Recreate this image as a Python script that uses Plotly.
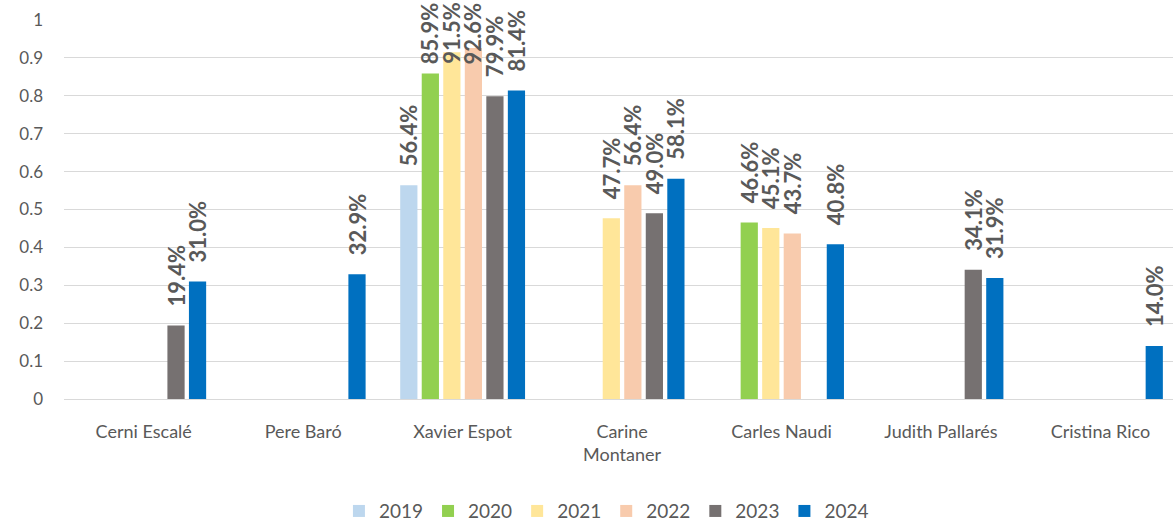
import plotly.graph_objects as go

categories = ["Cerni Escalé", "Pere Baró", "Xavier Espot", "Carine<br>Montaner",
              "Carles Naudi", "Judith Pallarés", "Cristina Rico"]
years = ["2019", "2020", "2021", "2022", "2023", "2024"]
v2019 = [None, None, 0.564, None, None, None, None]
v2020 = [None, None, 0.859, None, 0.466, None, None]
v2021 = [None, None, 0.915, 0.477, 0.451, None, None]
v2022 = [None, None, 0.926, 0.564, 0.437, None, None]
v2023 = [0.194, None, 0.799, 0.490, None, 0.341, None]
v2024 = [0.310, 0.329, 0.814, 0.581, 0.408, 0.319, 0.140]
colors = ["#BDD7EE", "#92D050", "#FFE699", "#F8CBAD", "#767171", "#0070C0"]
series = [v2019, v2020, v2021, v2022, v2023, v2024]

font = "Lato, 'Open Sans', sans-serif"
TXT = "#595959"
W, H = 1173, 521
ML, MR, MT, MB = 64, 0, 20, 122
XR = [-0.5, 6.455]
BARGAP = 0.19
plot_w = W - ML - MR
plot_h = H - MT - MB
pitch = plot_w / (XR[1] - XR[0])
slot = pitch * (1 - BARGAP) / len(series)
LABEL_LEN = 63      # approx. rotated label length in px
LABEL_GAP = 16      # gap between bar end and label

fig = go.Figure()
annotations = []
for i, (name, vals, col) in enumerate(zip(years, series, colors)):
    positions = []
    for j, v in enumerate(vals):
        if v is None:
            positions.append("none")
            continue
        bar_top_px = MT + (1 - v) * plot_h
        if bar_top_px - LABEL_GAP - LABEL_LEN < 1:
            # label would leave the chart: pin it to the top edge (as Excel does)
            positions.append("none")
            annotations.append(dict(
                x=j, xref="x", xshift=(i - (len(series) - 1) / 2) * slot,
                y=1 + MT / plot_h, yref="paper", yanchor="top", xanchor="center",
                text=f"{v:.1%}", textangle=-90, showarrow=False,
                font=dict(family=font, size=22, color=TXT, weight="bold"),
            ))
        else:
            positions.append("outside")
    fig.add_trace(go.Bar(
        x=categories, y=vals, name=name,
        marker=dict(color=col, line=dict(width=0)),
        texttemplate="\u00a0\u00a0\u00a0%{y:.1%}", textposition=positions, textangle=-90,
        textfont=dict(family=font, size=22, color=TXT, weight="bold"),
        cliponaxis=False, constraintext="none", hoverinfo="skip",
    ))

fig.update_layout(
    barmode="group", bargap=BARGAP, bargroupgap=0.2,
    width=W, height=H,
    margin=dict(l=ML, r=MR, t=MT, b=MB, autoexpand=False),
    paper_bgcolor="white", plot_bgcolor="white",
    font=dict(family=font, size=18, color=TXT),
    annotations=annotations,
    legend=dict(orientation="h", x=0.517, xanchor="center", xref="container",
                y=0.019, yanchor="middle", yref="container",
                font=dict(size=19, color=TXT), itemwidth=30,
                traceorder="normal"),
    xaxis=dict(range=XR, showgrid=False, showline=False, ticks="",
               tickfont=dict(size=18), ticklabelstandoff=20),
    yaxis=dict(range=[0, 1], dtick=0.1, showgrid=True, gridcolor="#D9D9D9",
               gridwidth=1.3, zeroline=True, zerolinecolor="#D9D9D9",
               zerolinewidth=1.3, tickfont=dict(size=17), ticklabelstandoff=20,
               tickformat="~g"),
)
fig.write_html("out.html", config={"displayModeBar": False},
               post_script="document.body.style.margin='0px';"
                           "document.body.style.overflow='hidden';")
